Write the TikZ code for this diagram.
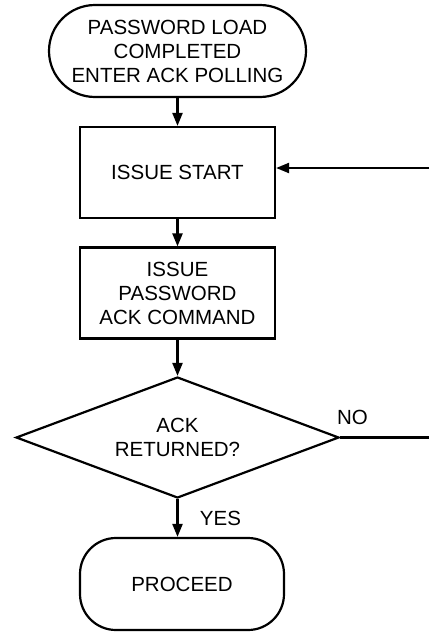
\documentclass[tikz,border=0pt]{standalone}
\usepackage{fontspec}
\setmainfont{Liberation Sans}
\usetikzlibrary{arrows.meta,shapes.geometric}

\tikzset{
    base/.style={draw, line width=2.2pt, align=center, inner sep=2pt,
        font=\fontsize{20.5}{24}\selectfont},
    terminal/.style={base, rectangle},
    process/.style={base, rectangle, minimum width=195pt, minimum height=91pt},
    decision/.style={base, diamond, aspect=2.67, inner sep=0pt,
        minimum width=323pt, minimum height=121pt},
    flow/.style={line width=2.2pt, -{Triangle[length=13pt,width=10pt]}},
    link/.style={line width=2.2pt}
}

\begin{document}
\begin{tikzpicture}[x=1pt, y=-1pt]
    \useasboundingbox (0,0) rectangle (429,632);
    % boxes
    \node[terminal, minimum width=257pt, minimum height=92pt, rounded corners=46pt]
        (start) at (177.5,51) {PASSWORD LOAD\\COMPLETED\\ENTER ACK POLLING};
    \node[process] (issue) at (177.5,172.5) {ISSUE START};
    \node[process] (cmd) at (177.5,293) {ISSUE\\PASSWORD\\ACK COMMAND};
    \node[decision] (ack) at (177.5,437.5) {ACK\\RETURNED?};
    \node[terminal, minimum width=204pt, minimum height=92pt, rounded corners=36pt]
        (proceed) at (182,584) {PROCEED};
    % loose ends on the right
    \coordinate (retry) at (429,168);
    \coordinate (noend) at (429,437.5);
    % connectors
    \draw[flow] (start) -- (issue);
    \draw[flow] (issue) -- (cmd);
    \draw[flow] (cmd) -- (ack);
    \draw[flow] (ack.south) -- (ack.south |- proceed.north)
        node[midway, right=18pt, font=\fontsize{20.5}{24}\selectfont] {YES};
    \draw[flow] (retry) -- (retry -| issue.east);
    \draw[link] (ack.east) -- (noend)
        node[pos=0.14, above=8pt, font=\fontsize{20.5}{24}\selectfont] {NO};
\end{tikzpicture}
\end{document}
